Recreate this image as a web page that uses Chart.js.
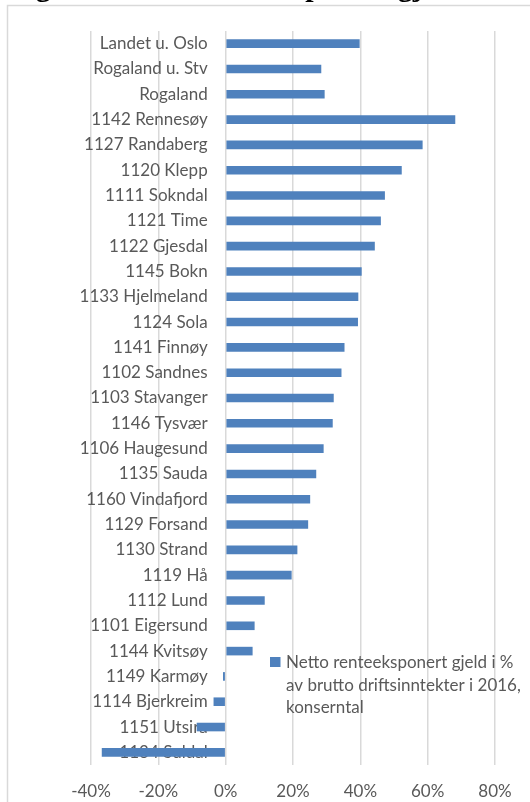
<!DOCTYPE html>
<html>
<head>
<meta charset="utf-8">
<script src="https://cdn.jsdelivr.net/npm/chart.js@4.4.1/dist/chart.umd.min.js"></script>
<style>
  html, body { margin: 0; padding: 0; background: #fff; overflow: hidden; }
  #wrap { position: relative; width: 530px; height: 802px; }
  #title { position: absolute; left: 9px; top: -31px; font: bold 30px "Liberation Serif", serif; color: #000; white-space: nowrap; line-height: 34px; }
</style>
</head>
<body>
<div id="wrap">
  <div id="title">Figur 4: Netto renteeksponert gjeld i % av brutto driftsinntekter</div>
  <canvas id="c"></canvas>
</div>
<script>
const categories = [
  "Landet u. Oslo", "Rogaland u. Stv", "Rogaland", "1142 Rennesøy", "1127 Randaberg",
  "1120 Klepp", "1111 Sokndal", "1121 Time", "1122 Gjesdal", "1145 Bokn",
  "1133 Hjelmeland", "1124 Sola", "1141 Finnøy", "1102 Sandnes", "1103 Stavanger",
  "1146 Tysvær", "1106 Haugesund", "1135 Sauda", "1160 Vindafjord", "1129 Forsand",
  "1130 Strand", "1119 Hå", "1112 Lund", "1101 Eigersund", "1144 Kvitsøy",
  "1149 Karmøy", "1114 Bjerkreim", "1151 Utsira", "1134 Suldal"
];
const values = [
  39.8, 28.4, 29.4, 68.2, 58.5,
  52.3, 47.3, 46.1, 44.3, 40.4,
  39.4, 39.3, 35.3, 34.4, 32.1,
  31.8, 29.1, 26.9, 25.1, 24.5,
  21.3, 19.6, 11.6, 8.6, 8.0,
  -0.8, -3.6, -8.6, -36.8
];
const seriesName = ["Netto renteeksponert gjeld i %", "av brutto driftsinntekter i 2016,", "konserntal"];
const xTicks = [-40, -20, 0, 20, 40, 60, 80];

const FONT = "Lato";
const FSIZE = 17;
const TXT = "#595959";

const framePlugin = {
  id: 'frame',
  beforeDraw(chart) {
    const ctx = chart.ctx;
    ctx.save();
    ctx.fillStyle = '#fff';
    ctx.fillRect(0, 0, chart.width, chart.height);
    ctx.strokeStyle = '#d9d9d9';
    ctx.lineWidth = 1.5;
    ctx.beginPath();
    ctx.moveTo(7.5, chart.height + 5);
    ctx.lineTo(7.5, 5.5);
    ctx.lineTo(chart.width + 5, 5.5);
    ctx.stroke();
    ctx.restore();
  }
};

const legendPlugin = {
  id: 'sideLegend',
  afterDraw(chart) {
    const ctx = chart.ctx;
    ctx.save();
    ctx.fillStyle = chart.data.datasets[0].backgroundColor;
    ctx.fillRect(270, 657, 10.5, 10);
    ctx.fillStyle = TXT;
    ctx.font = FSIZE + "px '" + FONT + "'";
    ctx.textBaseline = 'middle';
    ctx.textAlign = 'left';
    seriesName.forEach((t, i) => ctx.fillText(t, 286, 663 + i * 22.3));
    ctx.restore();
  }
};

new Chart(document.getElementById('c'), {
  type: 'bar',
  data: {
    labels: categories,
    datasets: [{
      label: seriesName.join(' '),
      data: values,
      backgroundColor: '#4f81bd',
      borderWidth: 0,
      barPercentage: 0.34,
      categoryPercentage: 1.0
    }]
  },
  options: {
    indexAxis: 'y',
    responsive: true,
    maintainAspectRatio: false,
    animation: false,
    layout: { padding: { left: 91, right: 35, top: 31, bottom: -16 } },
    plugins: { legend: { display: false }, tooltip: { enabled: false } },
    scales: {
      x: {
        min: -40, max: 80,
        afterBuildTicks(scale) { scale.ticks = xTicks.map(v => ({ value: v })); },
        grid: { color: '#d9d9d9', lineWidth: 1.5, drawTicks: false },
        border: { display: false },
        ticks: { color: TXT, padding: 18, font: { family: FONT, size: FSIZE, lineHeight: 1 }, callback: v => v + '%' }
      },
      y: {
        position: { x: -5.35 },
        grid: { display: false, drawTicks: false },
        border: { display: false },
        ticks: { color: TXT, padding: 0, autoSkip: false, font: { family: FONT, size: FSIZE } }
      }
    }
  },
  plugins: [framePlugin, legendPlugin]
});
</script>
</body>
</html>
